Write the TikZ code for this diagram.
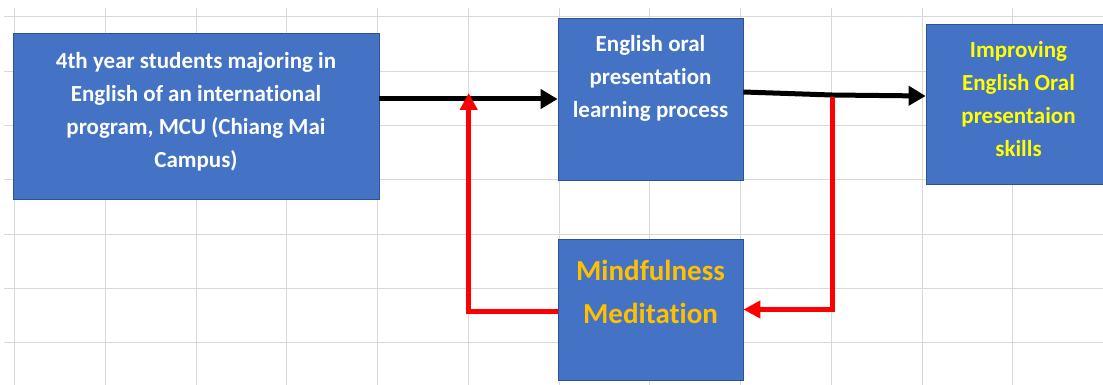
\documentclass[tikz,border=0pt]{standalone}
\usepackage{fontspec}
\setmainfont{Carlito}[Ligatures=NoCommon]
\usetikzlibrary{arrows.meta}
\definecolor{boxblue}{HTML}{4472C4}
\definecolor{boxedge}{HTML}{2F528F}
\definecolor{gridgray}{HTML}{D9D9D9}
\definecolor{gold}{HTML}{FFC000}
\definecolor{yel}{HTML}{FFFF00}
\definecolor{redline}{HTML}{FF0000}
\tikzset{
  box/.style={draw=boxedge, line width=0.8pt, fill=boxblue, rectangle, inner sep=0pt},
  boxtext/.style={anchor=north, inner sep=0pt, align=center, font=\bfseries\fontsize{23}{33}\selectfont},
  bigtext/.style={anchor=north, inner sep=0pt, align=center, font=\bfseries\fontsize{29}{43}\selectfont},
  gridline/.style={draw=gridgray, line width=1pt},
  blk/.style={draw=black, line width=5pt, -{Triangle[length=17pt,width=19pt]}},
  redarr/.style={draw=redline, line width=5pt, line join=miter, -{Triangle[length=17pt,width=17pt]}}
}
\begin{document}
\begin{tikzpicture}[x=1pt, y=-1pt]
\useasboundingbox (0,0) rectangle (1103,385);
\begin{scope}
\clip (0,0) rectangle (1103,385);
% spreadsheet grid
\foreach \k in {0,...,11} {
  \draw[gridline] ({14.7+90.75*\k},8) -- ({14.7+90.75*\k},385);
}
\foreach \k in {0,...,6} {
  \draw[gridline] (4,{17+54.3*\k}) -- (1103,{17+54.3*\k});
}
% boxes
\node[box, minimum width=366pt, minimum height=166pt] (b1) at (196,116) {};
\node[box, minimum width=185pt, minimum height=162pt] (b2) at (650.5,99) {};
\node[box, minimum width=185pt, minimum height=160pt] (b3) at (1018.5,104) {};
\node[box, minimum width=185pt, minimum height=141pt] (b4) at (650.5,309.5) {};
% texts
\node[boxtext, text=white] (t1) at ([yshift=-20pt]b1.north) {4th year students majoring in\\English of an international\\program, MCU (Chiang Mai\\Campus)};
\node[boxtext, text=white] (t2) at ([yshift=-18pt]b2.north) {English oral\\presentation\\learning process};
\node[boxtext, text=yel] (t3) at ([yshift=-18pt]b3.north) {Improving\\English Oral\\presentaion\\skills};
\node[bigtext, text=gold] (t4) at ([yshift=-21pt]b4.north) {Mindfulness\\Meditation};
% connectors
\coordinate (ya) at (0,99);
\coordinate (yb) at (0,93);
\coordinate (jb) at (832,95);
\coordinate (jr) at (468.7,311);
\draw[blk] (b1.east |- ya) -- (b2.west |- ya);
\draw[line width=5pt] ([yshift=7pt]b2.east) -- (jb);
\draw[blk] (jb) -- ([yshift=8pt]b3.west);
\draw[redarr] (b4.west |- jr) -- (jr) -- (jr |- yb);
\draw[redarr] ([yshift=-2pt]jb) -- (jb |- b4.west) -- (b4.east);
\end{scope}
\end{tikzpicture}
\end{document}
